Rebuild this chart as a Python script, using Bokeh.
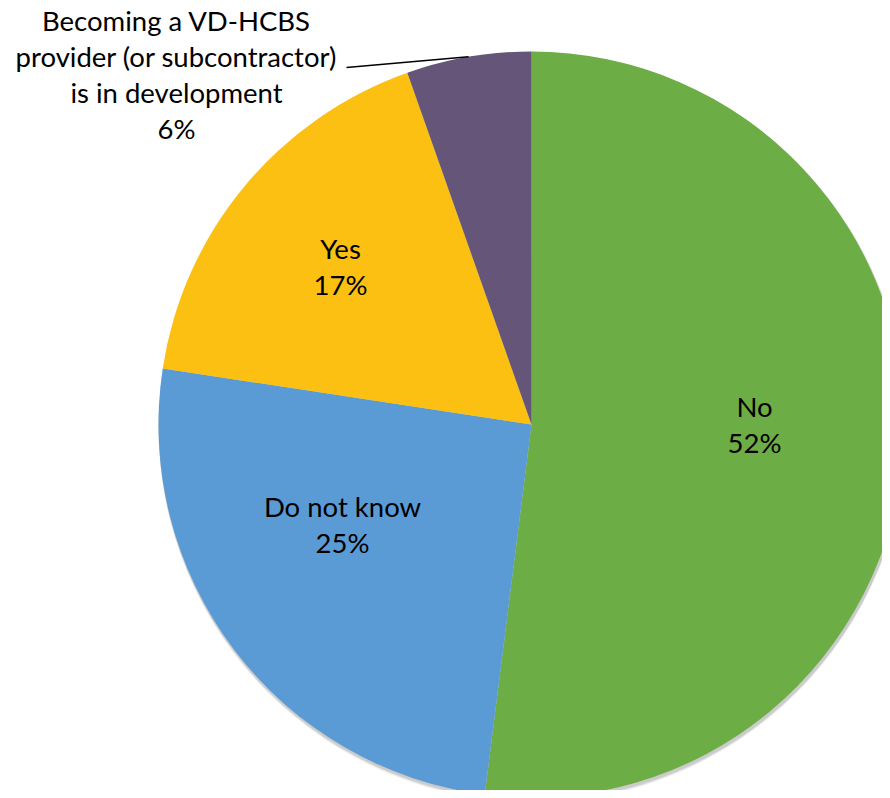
import math
from bokeh.plotting import figure
from bokeh.models import Range1d, ColumnDataSource
from bokeh.core.properties import value
from bokeh.embed import file_html
from bokeh.resources import INLINE

# ---- data ----
categories = ["No", "Do not know", "Yes",
              "Becoming a VD-HCBS\nprovider (or subcontractor)\nis in development"]
shares = [52.0, 25.4, 17.2, 5.4]          # slice sizes
pct_labels = ["52%", "25%", "17%", "6%"]  # percentages printed on the chart
colors = ["#6DAD45", "#5B9BD5", "#FBC012", "#645579"]

# ---- layout (pixels from the top-left of the figure; data y = -pixel y) ----
W, H = 882, 790
CX, CY, R = 531, 424, 373
label_anchor = [(754, 406), (342, 506), (340, 248), (176, 20)]  # first line
LINE = 36
FONT = "Lato"
FS = "27.5px"

p = figure(width=W, height=H, output_backend="svg", toolbar_location=None,
           x_axis_type=None, y_axis_type=None, min_border=0,
           x_range=Range1d(0, W), y_range=Range1d(-H, 0))
p.outline_line_color = None
p.grid.visible = False
p.background_fill_color = "white"
p.border_fill_color = "white"

total = sum(shares)
starts, ends, mids = [], [], []
c = 0.0
for s in shares:
    a0 = math.pi / 2 - 2 * math.pi * c / total
    c += s
    a1 = math.pi / 2 - 2 * math.pi * c / total
    starts.append(a0)
    ends.append(a1)
    mids.append((a0 + a1) / 2)

# soft shadow
for off, alpha in [(4, 0.05), (3, 0.07), (2, 0.09)]:
    p.circle(x=[CX + 1], y=[-(CY + off)], radius=R + 1, fill_color="#000000",
             fill_alpha=alpha, line_color=None)

src = ColumnDataSource(dict(start=starts, end=ends, color=colors))
p.wedge(x=CX, y=-CY, radius=R, start_angle="start", end_angle="end",
        direction="clock", fill_color="color", line_color=None, source=src)

# labels
xs, ys, txt = [], [], []
for i, cat in enumerate(categories):
    lines = cat.split("\n") + [pct_labels[i]]
    ax, ay = label_anchor[i]
    for k, ln in enumerate(lines):
        xs.append(ax)
        ys.append(-(ay + k * LINE))
        txt.append(ln)
p.text(x=xs, y=ys, text=txt, text_font=value(FONT), text_font_size=FS,
       text_align="center", text_baseline="alphabetic", text_color="#000000")

# leader line for the small slice
m = mids[3]
ex, ey = CX + R * math.cos(m), -CY + R * math.sin(m)
p.line(x=[346, ex], y=[-67, ey], line_color="#000000", line_width=1.5)

open("out.html", "w").write(file_html(p, INLINE))
